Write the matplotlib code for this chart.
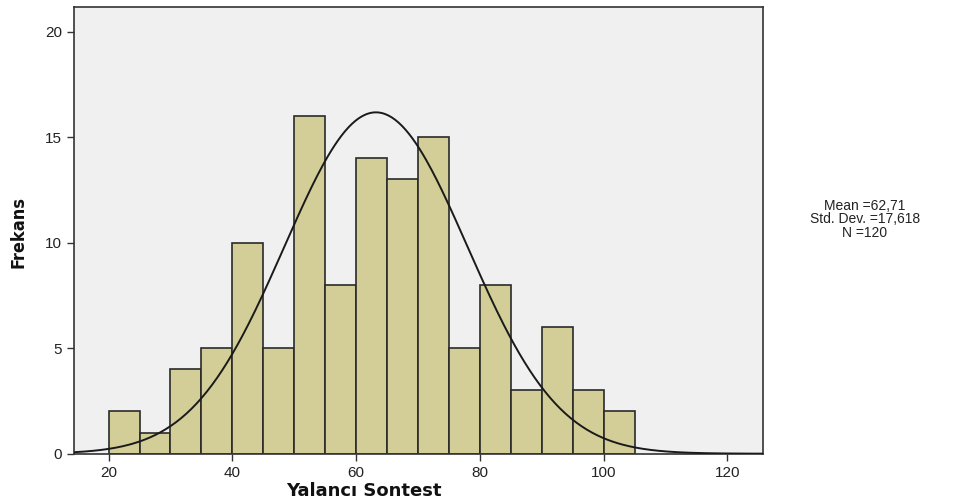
import matplotlib.pyplot as plt
import numpy as np

# histogram data (bins of width 5)
bin_edges = [20, 25, 30, 35, 40, 45, 50, 55, 60, 65, 70, 75, 80, 85, 90, 95, 100, 105]
counts = [2, 1, 4, 5, 10, 5, 16, 8, 14, 13, 15, 5, 8, 3, 6, 3, 2]

mean = 62.71
std_dev = 17.618
n = 120

# the normal curve as SPSS drew it on this axis (centre / spread)
curve_center = 63.2
curve_sd = 14.8

x_ticks = [20, 40, 60, 80, 100, 120]
y_ticks = [0, 5, 10, 15, 20]

fig = plt.figure(figsize=(9.63, 5.04), dpi=100)
ax = fig.add_axes([0.0768, 0.0998, 0.7152, 0.8857])
ax.set_facecolor("#F0F0F0")

lefts = np.array(bin_edges[:-1])
widths = np.diff(bin_edges)
ax.bar(lefts, counts, width=widths, align="edge", color="#D3CE97",
       edgecolor="#2A2A2A", linewidth=1.2, zorder=2)

# normal curve
xs = np.linspace(14.4, 125.7, 400)
ys = n * 5 * np.exp(-0.5 * ((xs - curve_center) / curve_sd) ** 2) / (curve_sd * np.sqrt(2 * np.pi))
ax.plot(xs, ys, color="#1A1A1A", linewidth=1.4, zorder=3)

ax.set_xlim(14.4, 125.7)
ax.set_ylim(0, 21.15)
ax.set_xticks(x_ticks)
ax.set_yticks(y_ticks)
ax.tick_params(direction="out", length=5, width=1, colors="#333333",
               labelsize=10, labelcolor="#222222")
for lbl in ax.get_xticklabels() + ax.get_yticklabels():
    lbl.set_family(["Liberation Sans", "DejaVu Sans"])
    lbl.set_fontsize(11)
for s in ax.spines.values():
    s.set_color("#333333")
    s.set_linewidth(1.2)

fig.text(0.378, 0.026, "Yalancı Sontest", ha="center", va="center",
         fontsize=13, fontweight="bold", color="#111111")
fig.text(0.019, 0.54, "Frekans", rotation=90, ha="center", va="center",
         fontsize=13, fontweight="bold", fontstretch="condensed",
         color="#111111", family="DejaVu Sans")

fig.text(0.898, 0.565, "Mean =62,71\nStd. Dev. =17,618\nN =120",
         ha="center", va="center", fontsize=10, linespacing=0.95,
         family=["Liberation Sans", "DejaVu Sans"], color="#222222")

fig.savefig("out.png", dpi=100)
